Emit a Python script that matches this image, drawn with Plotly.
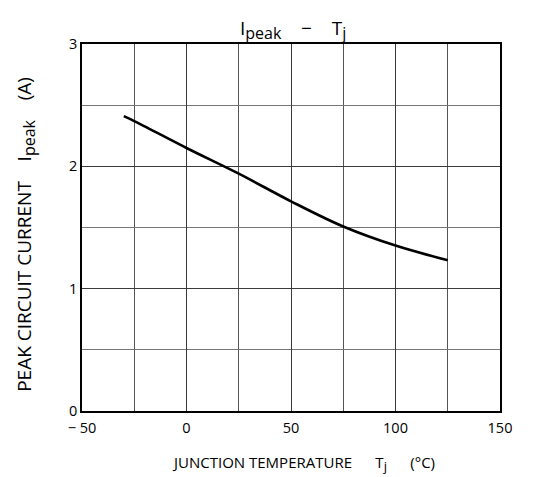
import plotly.graph_objects as go

temp_c = [-30, -25, 0, 25, 50, 75, 100, 125]
i_peak = [2.41, 2.37, 2.15, 1.94, 1.714, 1.508, 1.352, 1.232]

x_ticks = [-50, 0, 50, 100, 150]
x_tick_labels = ["− 50", "0", "50", "100", "150"]
y_ticks = [0, 1, 2, 3]
y_tick_labels = ["0", "1", "2", "3"]

font_family = "Open Sans, DejaVu Sans, sans-serif"

fig = go.Figure()
fig.add_trace(go.Scatter(
    x=temp_c, y=i_peak, mode="lines",
    line=dict(color="black", width=2.6, shape="spline", smoothing=1.0),
    showlegend=False, hoverinfo="skip"))

def sub(t, size):
    return "<sub><span style='font-size:%dpx'>%s</span></sub>" % (size, t)

fig.update_layout(
    width=553, height=477,
    margin=dict(l=82, r=53, t=44, b=66),
    paper_bgcolor="white", plot_bgcolor="white",
    font=dict(family=font_family, color="black", size=13),
    title=dict(text="I" + sub("peak", 16) + "    −    T" + sub("j", 16),
               x=0.505, xanchor="center", xref="paper", y=0.94, yanchor="middle",
               font=dict(size=19, family=font_family, color="black")),
    annotations=[
        dict(text="JUNCTION TEMPERATURE      T" + sub("j", 13) + "      (°C)",
             xref="paper", yref="paper", x=0.531, y=-0.142, xanchor="center", yanchor="middle",
             showarrow=False, font=dict(size=15, family=font_family, color="black")),
        dict(text="PEAK CIRCUIT CURRENT    I" + sub("peak", 16) + "    (A)",
             xref="paper", yref="paper", x=-0.137, y=0.482, xanchor="center", yanchor="middle",
             textangle=-90, showarrow=False, font=dict(size=19, family=font_family, color="black")),
    ],
)
fig.update_xaxes(
    range=[-50, 150], tickvals=x_ticks, ticktext=x_tick_labels, ticks="",
    showgrid=True, gridcolor="#3a3a3a", gridwidth=1,
    minor=dict(tickvals=[-25, 25, 75, 125], showgrid=True, gridcolor="#555", gridwidth=1),
    showline=True, linecolor="black", linewidth=1.5, mirror=True, zeroline=False,
    ticklabelstandoff=3,
    tickfont=dict(size=14.5),
)
fig.update_yaxes(
    range=[0, 3], tickvals=y_ticks, ticktext=y_tick_labels, ticks="",
    showgrid=True, gridcolor="#3a3a3a", gridwidth=1,
    minor=dict(tickvals=[0.5, 1.5, 2.5], showgrid=True, gridcolor="#777", gridwidth=1),
    showline=True, linecolor="black", linewidth=1.5, mirror=True, zeroline=False,
    tickfont=dict(size=14.5),
)

fig.write_html("out.html")
